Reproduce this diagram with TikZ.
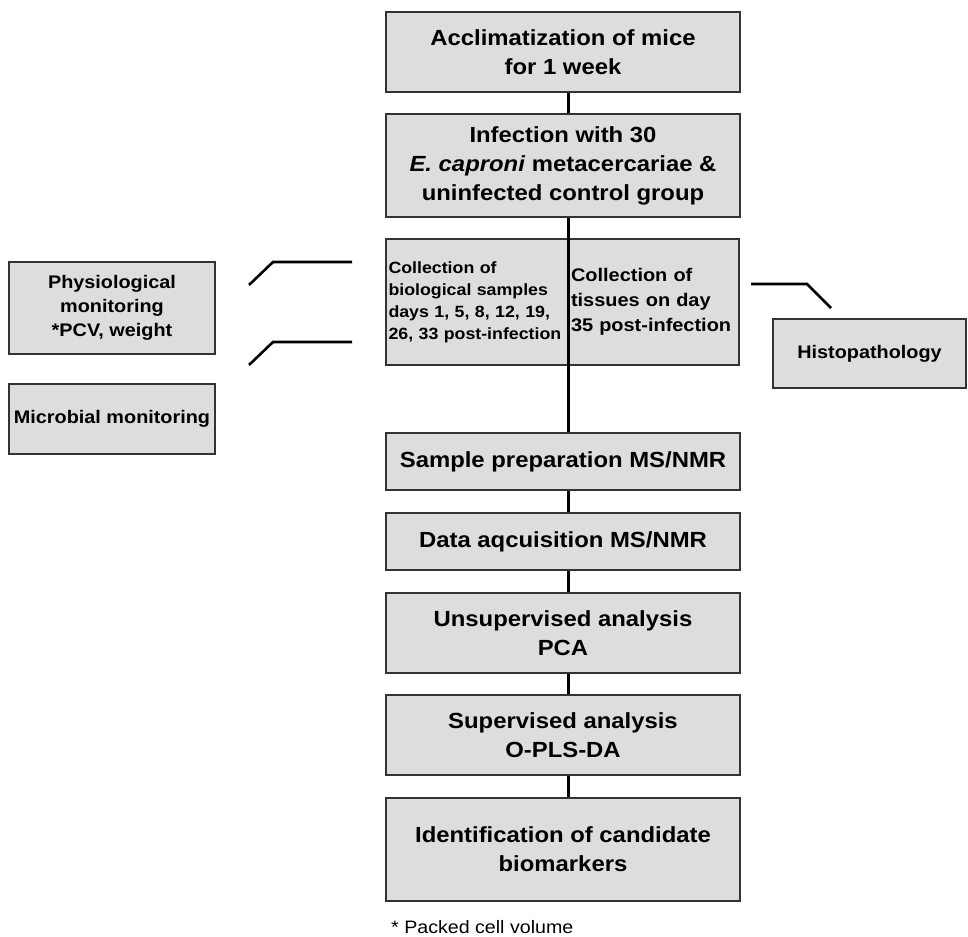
\documentclass[tikz,border=0pt]{standalone}
\usepackage{fontspec}
\setmainfont{Liberation Sans}[FakeStretch=1.09]
\definecolor{boxfill}{HTML}{DDDDDD}
\definecolor{boxline}{HTML}{333333}
\begin{document}
\begin{tikzpicture}[x=1pt,y=-1pt,
  box/.style={draw=boxline, line width=1.6pt, fill=boxfill, rectangle, inner sep=0pt, align=center, font=\bfseries\fontsize{21.9}{29}\selectfont},
  smallbox/.style={box, font=\bfseries\fontsize{18.2}{24}\selectfont},
  conn/.style={line width=3pt, draw=black}]
\useasboundingbox (0,0) rectangle (968,936);
\coordinate (spine) at (568.5,0);
\node[box, minimum width=354pt, minimum height=80pt] (acc) at (563,52) {Acclimatization of mice\\for 1 week};
\node[box, minimum width=354pt, minimum height=103pt] (inf) at (563,165.5) {Infection with 30\\\textit{E. caproni} metacercariae \&\\uninfected control group};
\node[box, minimum width=182pt, minimum height=126pt, text width=177pt, inner xsep=2.5pt, align=left, font=\bfseries\fontsize{16.3}{22}\selectfont] (collA) at (477,302) {Collection of\\biological samples\\days 1, 5, 8, 12, 19,\\26, 33 post-infection};
\node[box, minimum width=171pt, minimum height=126pt, text width=165pt, inner xsep=3pt, align=left, font=\bfseries\fontsize{18.3}{25}\selectfont] (collB) at (653.5,302) {Collection of\\tissues on day\\35 post-infection};
\node[box, minimum width=354pt, minimum height=57pt] (prep) at (563,461.5) {Sample preparation MS/NMR};
\node[box, minimum width=354pt, minimum height=57pt] (acq) at (563,541.5) {Data aqcuisition MS/NMR};
\node[box, minimum width=354pt, minimum height=80pt] (unsup) at (563,633) {Unsupervised analysis\\PCA};
\node[box, minimum width=354pt, minimum height=80pt] (sup) at (563,735) {Supervised analysis\\O-PLS-DA};
\node[box, minimum width=354pt, minimum height=103pt] (ident) at (563,849.5) {Identification of candidate\\biomarkers};
\node[smallbox, minimum width=206pt, minimum height=92pt] (phys) at (112,308) {Physiological\\monitoring\\*PCV, weight};
\node[smallbox, minimum width=206pt, minimum height=70pt] (micro) at (112,419) {Microbial monitoring};
\node[smallbox, minimum width=193pt, minimum height=69pt] (histo) at (869.5,353.5) {Histopathology};
\node[anchor=west, inner sep=0pt, font=\fontsize{18}{20}\selectfont] (foot) at (391,927) {* Packed cell volume};
% spine connectors
\draw[conn] (acc.south -| spine) -- (inf.north -| spine);
\draw[conn] (inf.south -| spine) -- (prep.north -| spine);
\draw[conn] (prep.south -| spine) -- (acq.north -| spine);
\draw[conn] (acq.south -| spine) -- (unsup.north -| spine);
\draw[conn] (unsup.south -| spine) -- (sup.north -| spine);
\draw[conn] (sup.south -| spine) -- (ident.north -| spine);
% side connectors
\coordinate (p1a) at (249,285); \coordinate (p1b) at (273,262); \coordinate (p1c) at (352,262);
\coordinate (p2a) at (249,365); \coordinate (p2b) at (273,342); \coordinate (p2c) at (352,342);
\coordinate (h1a) at (751,284); \coordinate (h1b) at (807,284); \coordinate (h1c) at (831,308);
\draw[conn, line width=2.6pt] (p1a) -- (p1b) -- (p1c);
\draw[conn, line width=2.6pt] (p2a) -- (p2b) -- (p2c);
\draw[conn, line width=2.6pt] (h1a) -- (h1b) -- (h1c);
\end{tikzpicture}
\end{document}
